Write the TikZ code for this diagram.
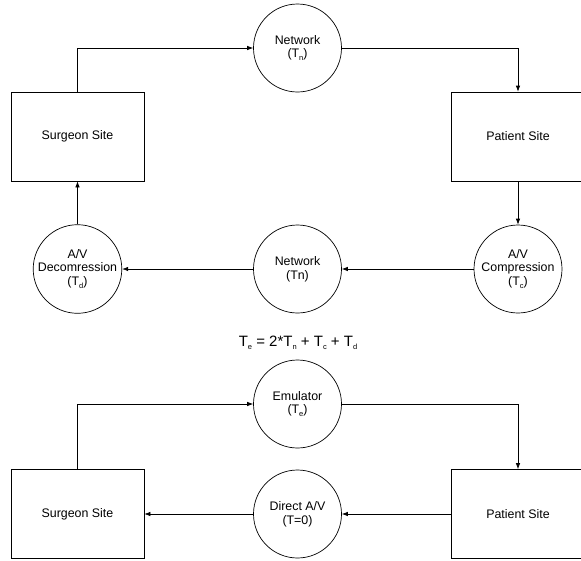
\documentclass[tikz,border=0pt]{standalone}
\usepackage{fontspec}
\setmainfont{Liberation Sans}
\usepackage{tikz}
\usetikzlibrary{arrows.meta, positioning}

\newcommand{\lowsub}[1]{\raisebox{-0.45ex}{\fontsize{7.5}{7.5}\selectfont #1}}

\tikzset{
  site/.style={draw, line width=0.7pt, minimum width=133pt, minimum height=89pt, inner sep=0pt},
  stage/.style={draw, circle, line width=0.7pt, minimum size=88pt, inner sep=0pt, align=center},
  flow/.style={line width=0.7pt, -{Latex[length=6pt,width=4.5pt]}}
}

\begin{document}
\begin{tikzpicture}[x=1pt, y=-1pt, font=\fontsize{12.4}{13.8}\selectfont]
\clip (0,0) rectangle (581,560);
\useasboundingbox (0,0) rectangle (581,560);

% upper loop
\node[site] (surgeonA) at (77.5,136.5) {Surgeon Site};
\node[site] (patientA) at (518,136.5) {Patient Site};
\node[stage] (netA) at (297.5,48) {Network\\(T\lowsub{n})};
\node[stage] (compr) at (518,269) {A/V\\Compression\\(T\lowsub{c})};
\node[stage] (netB) at (297.5,269) {Network\\(Tn)};
\node[stage] (decompr) at (77.5,269) {A/V\\Decomression\\(T\lowsub{d})};

\draw[flow] (surgeonA.north) |- (netA.west);
\draw[flow] (netA.east) -| (patientA.north);
\draw[flow] (patientA.south) -- (compr.north);
\draw[flow] (compr.west) -- (netB.east);
\draw[flow] (netB.west) -- (decompr.east);
\draw[flow] (decompr.north) -- (surgeonA.south);

\node[font=\fontsize{15}{17}\selectfont] (delay) at (298,343)
  {T\lowsub{e} = 2*T\lowsub{n} + T\lowsub{c} + T\lowsub{d}};

% lower loop
\node[site] (surgeonB) at (77.5,514) {Surgeon Site};
\node[site] (patientB) at (518,514) {Patient Site};
\node[stage] (emul) at (297.5,404) {Emulator\\(T\lowsub{e})};
\node[stage] (direct) at (297.5,514) {Direct A/V\\(T=0)};

\draw[flow] (surgeonB.north) |- (emul.west);
\draw[flow] (emul.east) -| (patientB.north);
\draw[flow] (patientB.west) -- (direct.east);
\draw[flow] (direct.west) -- (surgeonB.east);

\end{tikzpicture}
\end{document}
